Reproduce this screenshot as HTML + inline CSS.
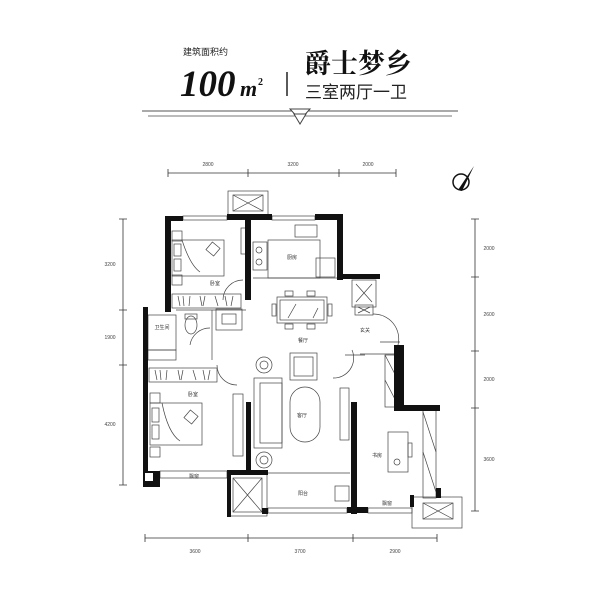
<!DOCTYPE html>
<html><head><meta charset="utf-8"><style>
html,body{margin:0;padding:0;background:#fff;}
svg{display:block}
text{font-family:"Liberation Sans","Noto Sans CJK SC",sans-serif;}
text.serif{font-family:"Liberation Serif",serif;}
text.cjks{font-family:"Noto Serif CJK SC","Noto Sans CJK SC",serif;}
</style></head><body>
<svg width="600" height="600" viewBox="0 0 600 600" xmlns="http://www.w3.org/2000/svg">
<rect width="600" height="600" fill="#fff"/>
<text x="183" y="55" font-size="9" fill="#222">建筑面积约</text>
<text class="serif" x="180" y="96" font-size="37" font-weight="bold" font-style="italic" fill="#111">100</text>
<text class="serif" x="240" y="96" font-size="22" font-weight="bold" font-style="italic" fill="#111">m</text>
<text class="serif" x="258" y="85" font-size="10" font-weight="bold" fill="#111">2</text>
<line x1="287" y1="72" x2="287" y2="96" stroke="#222" stroke-width="1.5"/>
<text class="cjks" x="304" y="73" font-size="27" font-weight="bold" fill="#111">爵士梦乡</text>
<text x="305" y="98" font-size="17" fill="#222">三室两厅一卫</text>
<line x1="142" y1="111" x2="458" y2="111" stroke="#555" stroke-width="1"/>
<line x1="148" y1="116" x2="452" y2="116" stroke="#777" stroke-width="1"/>
<polygon points="290,109 310,109 300,120" fill="#fff" stroke="#444" stroke-width="1"/>
<polygon points="294,114 306,114 300,124" fill="#fff" stroke="#444" stroke-width="1"/>

<g stroke="#333" stroke-width="0.8" fill="none">
<line x1="168" y1="173" x2="396" y2="173"/>
<path d="M168 169v8M248 169v8M339 169v8M396 169v8"/>
<line x1="123" y1="219" x2="123" y2="485"/>
<path d="M119 219h8M119 310h8M119 365h8M119 485h8"/>
<line x1="475" y1="219" x2="475" y2="511"/>
<path d="M471 219h8M471 277h8M471 351h8M471 408h8M471 511h8"/>
<line x1="145" y1="538" x2="437" y2="538"/>
<path d="M145 534v8M248 534v8M353 534v8M437 534v8"/>
</g>
<g font-size="5" fill="#444" text-anchor="middle">
<text x="208" y="166">2800</text><text x="293" y="166">3200</text><text x="368" y="166">2000</text>
<text x="195" y="553">3600</text><text x="300" y="553">3700</text><text x="395" y="553">2900</text>
<text x="110" y="266">3200</text><text x="110" y="339">1900</text><text x="110" y="426">4200</text>
<text x="489" y="250">2000</text><text x="489" y="316">2600</text><text x="489" y="381">2000</text><text x="489" y="461">3600</text>
</g>
<circle cx="461" cy="182" r="8" fill="none" stroke="#111" stroke-width="1.5"/>
<path d="M474 166 L458 190 L462 191 Z" fill="#111"/>

<g stroke="#444" stroke-width="0.7" fill="none">
<rect x="228" y="191" width="40" height="24"/><rect x="233" y="195" width="30" height="16"/><path d="M233 195l30 16M263 195l-30 16"/>
<rect x="183" y="216" width="44" height="4"/>
<rect x="272" y="216" width="43" height="4"/>
<rect x="228" y="474" width="39" height="42"/><rect x="233" y="478" width="29" height="34"/><path d="M233 478l29 34M262 478l-29 34"/>
<rect x="160" y="471" width="67" height="7"/>
<rect x="268" y="508" width="79" height="5"/>
<rect x="368" y="508" width="44" height="5"/>
<rect x="412" y="497" width="50" height="31"/><rect x="423" y="503" width="30" height="16"/><path d="M423 503l30 16M453 503l-30 16"/>
<rect x="352" y="280" width="24" height="27"/><path d="M356 284l16 18M372 284l-16 18"/>
<rect x="355" y="305" width="18" height="10"/><path d="M358 307l12 6M370 307l-12 6"/>
<rect x="172" y="294" width="69" height="14"/><path d="M178 296l2 10M183 296l1 10M190 296l-1 10M200 296l2 10M205 296l-2 10M215 296l3 10M225 296l2 10M233 296l-2 10"/>
<rect x="149" y="368" width="68" height="14"/><path d="M155 370l2 10M160 370l1 10M167 370l-1 10M178 370l2 10M183 370l-2 10M193 370l3 10M203 370l2 10M210 370l-2 10"/>
<rect x="385" y="355" width="13" height="52"/><path d="M385 355l13 25M385 380l13 25"/>
<rect x="423" y="410" width="13" height="88"/><path d="M423 412l13 40M423 452l13 40"/>
<rect x="172" y="240" width="52" height="36"/><path d="M182 240q8 25 18 32"/>
<rect x="150" y="403" width="52" height="42"/><path d="M162 403q6 30 18 38"/>
<rect x="172" y="231" width="10" height="10"/><rect x="172" y="275" width="10" height="10"/>
<rect x="150" y="393" width="10" height="10"/><rect x="150" y="447" width="10" height="10"/>
<rect x="174" y="244" width="7" height="12"/><rect x="174" y="259" width="7" height="12"/>
<rect x="152" y="408" width="7" height="14"/><rect x="152" y="425" width="7" height="14"/>
<rect x="208" y="244" width="10" height="10" transform="rotate(40 213 249)"/>
<rect x="186" y="412" width="10" height="10" transform="rotate(40 191 417)"/>
<rect x="268" y="240" width="52" height="38"/><rect x="295" y="225" width="22" height="12"/>
<rect x="316" y="258" width="19" height="19"/>
<rect x="253" y="242" width="14" height="28"/><circle cx="259" cy="250" r="3"/><circle cx="259" cy="262" r="3"/>
<rect x="241" y="228" width="6" height="26"/>
<line x1="253" y1="278" x2="340" y2="278"/>
<rect x="148" y="315" width="28" height="35"/>
<ellipse cx="191" cy="325" rx="6" ry="9"/><rect x="185" y="314" width="12" height="5"/>
<rect x="148" y="350" width="28" height="10"/>
<rect x="216" y="309" width="26" height="21"/><rect x="222" y="314" width="14" height="10"/>
<path d="M176 310h70"/><path d="M212 310v50"/>
<rect x="277" y="297" width="50" height="26"/><rect x="280" y="300" width="44" height="20"/>
<rect x="285" y="291" width="8" height="5"/><rect x="307" y="291" width="8" height="5"/><rect x="285" y="324" width="8" height="5"/><rect x="307" y="324" width="8" height="5"/>
<rect x="272" y="304" width="4" height="12"/><rect x="328" y="304" width="4" height="12"/>
<path d="M288 318l8-14M313 318l5-10"/>
<rect x="290" y="353" width="27" height="27"/><rect x="294" y="357" width="19" height="19"/>
<rect x="254" y="378" width="28" height="70"/><rect x="260" y="383" width="22" height="60"/>
<rect x="290" y="387" width="30" height="55" rx="15"/>
<circle cx="264" cy="365" r="8"/><circle cx="264" cy="365" r="4"/>
<circle cx="264" cy="460" r="8"/><circle cx="264" cy="460" r="4"/>
<rect x="233" y="394" width="10" height="62"/>
<rect x="340" y="388" width="9" height="52"/>
<rect x="388" y="432" width="20" height="40"/><circle cx="397" cy="462" r="3"/><rect x="408" y="443" width="4" height="14"/>
<rect x="335" y="486" width="14" height="15"/>
<line x1="268" y1="473" x2="350" y2="473"/>
<path d="M223 300 A20 20 0 0 1 243 280"/><path d="M190 345 A20 20 0 0 1 210 328"/>
<path d="M217 365 A20 20 0 0 0 237 385"/><path d="M398 345 A25 25 0 0 0 373 314"/>
<path d="M352 350 A20 20 0 0 1 333 378"/>
<path d="M380 342h20M360 354h35M345 355h20"/>
</g>

<g fill="#111">
<rect x="165" y="216" width="6" height="96"/>
<rect x="165" y="216" width="18" height="5"/>
<rect x="227" y="214" width="20" height="6"/>
<rect x="245" y="218" width="6" height="82"/>
<rect x="247" y="214" width="25" height="6"/>
<rect x="315" y="214" width="27" height="6"/>
<rect x="337" y="214" width="6" height="66"/>
<rect x="337" y="274" width="43" height="5"/>
<rect x="143" y="307" width="5" height="180"/>
<rect x="143" y="471" width="17" height="16"/>
<rect x="394" y="345" width="10" height="66"/>
<rect x="394" y="405" width="46" height="6"/>
<rect x="436" y="488" width="5" height="10"/>
<rect x="246" y="402" width="5" height="72"/>
<rect x="227" y="470" width="41" height="5"/>
<rect x="227" y="470" width="4" height="47"/>
<rect x="262" y="508" width="6" height="6"/>
<rect x="351" y="402" width="6" height="112"/>
<rect x="347" y="507" width="21" height="6"/>
<rect x="410" y="495" width="4" height="12"/>
<rect x="145" y="473" width="8" height="8" fill="#fff"/>
</g>

<g font-size="5" fill="#333" text-anchor="middle">
<text x="215" y="285">卧室</text><text x="292" y="259">厨房</text><text x="162" y="329">卫生间</text>
<text x="303" y="342">餐厅</text><text x="365" y="332">玄关</text><text x="193" y="396">卧室</text>
<text x="302" y="417">客厅</text><text x="377" y="457">书房</text><text x="303" y="495">阳台</text>
<text x="194" y="478">飘窗</text><text x="387" y="505">飘窗</text>
</g>
</svg>
</body></html>
